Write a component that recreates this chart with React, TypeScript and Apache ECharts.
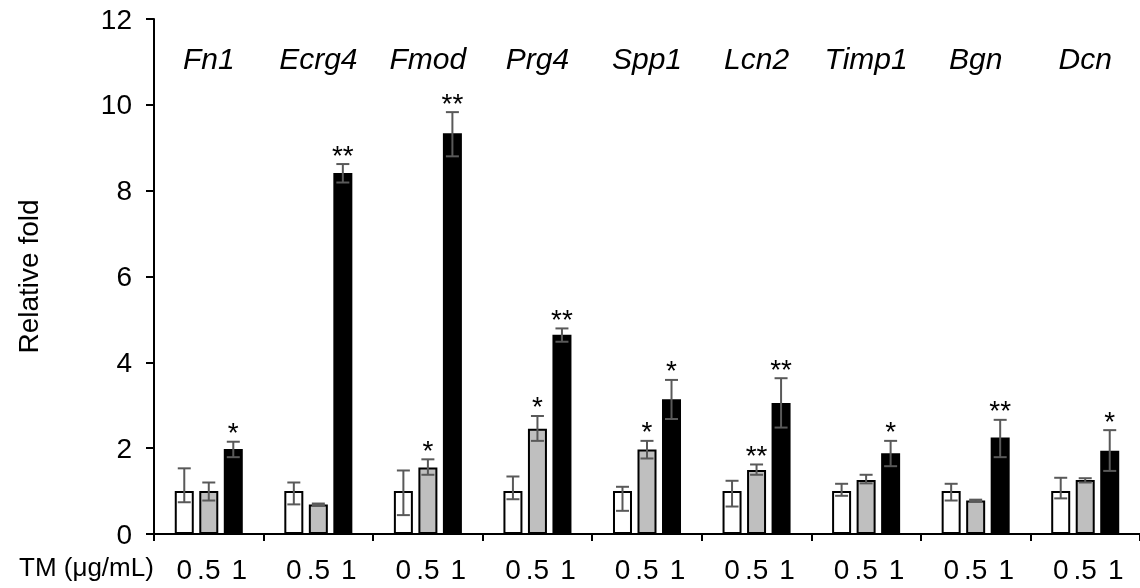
import { useEffect, useRef } from 'react';
import * as echarts from 'echarts';

const genes = ['Fn1', 'Ecrg4', 'Fmod', 'Prg4', 'Spp1', 'Lcn2', 'Timp1', 'Bgn', 'Dcn'];
const doseLabels = ['0', '.5', '1'];

const mean0 = [1.0, 1.0, 1.0, 1.0, 1.0, 1.0, 1.0, 1.0, 1.0];
const mean05 = [1.0, 0.69, 1.55, 2.45, 1.97, 1.49, 1.26, 0.78, 1.26];
const mean1 = [1.98, 8.41, 9.34, 4.64, 3.14, 3.05, 1.88, 2.25, 1.94];

const hi0 = [1.53, 1.2, 1.48, 1.34, 1.1, 1.24, 1.17, 1.17, 1.31];
const lo0 = [0.74, 0.69, 0.44, 0.81, 0.54, 0.64, 0.89, 0.78, 0.83];
const hi05 = [1.2, 0.71, 1.74, 2.75, 2.17, 1.62, 1.38, 0.8, 1.3];
const lo05 = [0.78, 0.67, 1.38, 2.17, 1.76, 1.38, 1.18, 0.76, 1.2];
const hi1 = [2.15, 8.62, 9.83, 4.79, 3.59, 3.63, 2.17, 2.66, 2.42];
const lo1 = [1.79, 8.19, 8.8, 4.48, 2.68, 2.48, 1.58, 1.79, 1.47];

const sig0 = ['', '', '', '', '', '', '', '', ''];
const sig05 = ['', '', '*', '*', '*', '**', '', '', ''];
const sig1 = ['*', '**', '**', '**', '*', '**', '*', '**', '*'];

const FONT = '"Liberation Sans", Arial, sans-serif';
const BAR_W = 19;
const BAR_GAP = 0.29;
const BAR_STEP = BAR_W * (1 + BAR_GAP);

export default function App() {
  const ref = useRef<HTMLDivElement>(null);
  useEffect(() => {
    const chart = echarts.init(ref.current!, null, { renderer: 'svg' });

    const his = [hi0, hi05, hi1];
    const los = [lo0, lo05, lo1];
    const sigs = [sig0, sig05, sig1];
    const errData: any[] = [];
    const errSig: string[] = [];
    for (let d = 0; d < 3; d++) {
      for (let i = 0; i < genes.length; i++) {
        errData.push([i, d, los[d][i], his[d][i]]);
        errSig.push(sigs[d][i]);
      }
    }

    const errRender = (params: any, api: any) => {
      const cat = api.value(0);
      const d = api.value(1);
      const pLo = api.coord([cat, api.value(2)]);
      const pHi = api.coord([cat, api.value(3)]);
      const x = pLo[0] + (d - 1) * BAR_STEP;
      const stroke = { stroke: '#595959', lineWidth: 2 };
      const cap = 6.5;
      const children: any[] = [
        { type: 'line', shape: { x1: x, y1: pLo[1], x2: x, y2: pHi[1] }, style: stroke },
        { type: 'line', shape: { x1: x - cap, y1: pHi[1], x2: x + cap, y2: pHi[1] }, style: stroke },
        { type: 'line', shape: { x1: x - cap, y1: pLo[1], x2: x + cap, y2: pLo[1] }, style: stroke },
      ];
      const s = errSig[params.dataIndex];
      if (s) {
        children.push({
          type: 'text',
          x,
          y: pHi[1] - 9,
          style: {
            text: s,
            fontSize: 28,
            fontFamily: FONT,
            fill: '#000',
            align: 'center',
            verticalAlign: 'middle',
          },
        });
      }
      return { type: 'group', children };
    };

    const labelRender = (params: any, api: any) => {
      const cat = api.value(0);
      const top = api.coord([cat, 12]);
      const base = api.coord([cat, 0]);
      const children: any[] = [
        {
          type: 'text',
          x: top[0],
          y: top[1] + 39,
          style: {
            text: genes[params.dataIndex],
            fontSize: 30,
            fontStyle: 'italic',
            fontFamily: FONT,
            fill: '#000',
            align: 'center',
            verticalAlign: 'middle',
          },
        },
      ];
      for (let d = 0; d < 3; d++) {
        children.push({
          type: 'text',
          x: base[0] + (d - 1) * BAR_STEP + (d === 2 ? 6 : 0),
          y: base[1] + 35,
          style: {
            text: doseLabels[d],
            fontSize: 28,
            fontFamily: FONT,
            fill: '#000',
            align: 'center',
            verticalAlign: 'middle',
          },
        });
      }
      return { type: 'group', children };
    };

    const barStyle = (color: string) => ({ color, borderColor: '#000', borderWidth: 2 });

    chart.setOption({
      animation: false,
      textStyle: { fontFamily: FONT },
      grid: { left: 154, top: 19, width: 990, height: 515, containLabel: false },
      xAxis: {
        type: 'category',
        data: genes,
        axisLine: { lineStyle: { color: '#000', width: 2 } },
        axisTick: { show: true, interval: 0, length: 7, lineStyle: { color: '#000', width: 2 } },
        axisLabel: { show: false },
        splitLine: { show: false },
      },
      yAxis: {
        type: 'value',
        min: 0,
        max: 12,
        interval: 2,
        name: 'Relative fold',
        nameLocation: 'middle',
        nameGap: 112,
        nameTextStyle: { fontSize: 28, color: '#000', fontFamily: FONT },
        axisLine: { show: true, lineStyle: { color: '#000', width: 2 } },
        axisTick: { show: true, length: 8, lineStyle: { color: '#000', width: 2 } },
        axisLabel: { fontSize: 28, color: '#000', margin: 22, fontFamily: FONT },
        splitLine: { show: false },
      },
      graphic: [
        {
          type: 'text',
          left: 19,
          top: 554,
          style: { text: 'TM (μg/mL)', fontSize: 26, fill: '#000', fontFamily: FONT },
        },
      ],
      series: [
        { type: 'bar', name: '0', data: mean0, barWidth: BAR_W, barGap: BAR_GAP * 100 + '%', itemStyle: barStyle('#ffffff') },
        { type: 'bar', name: '.5', data: mean05, barWidth: BAR_W, barGap: BAR_GAP * 100 + '%', itemStyle: barStyle('#bfbfbf') },
        { type: 'bar', name: '1', data: mean1, barWidth: BAR_W, barGap: BAR_GAP * 100 + '%', itemStyle: barStyle('#000000') },
        { type: 'custom', data: errData, encode: { x: 0, y: 3 }, renderItem: errRender, clip: false, z: 5, silent: true },
        { type: 'custom', data: genes.map((_, i) => [i]), encode: { x: 0 }, renderItem: labelRender, clip: false, z: 5, silent: true },
      ],
    });
    return () => chart.dispose();
  }, []);
  return <div ref={ref} style={{ position: 'fixed', left: 0, top: 0, width: 1140, height: 588 }} />;
}
